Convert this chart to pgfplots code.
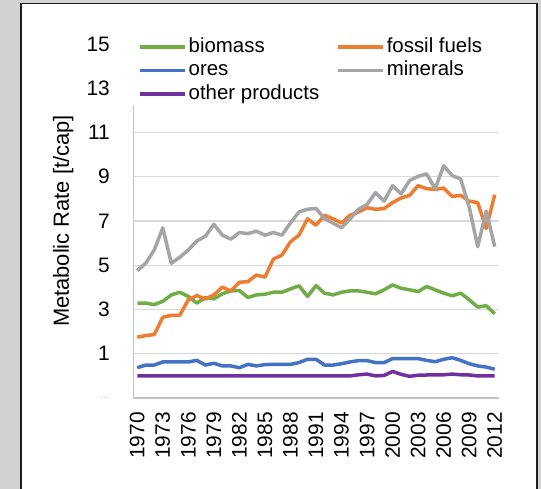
\documentclass[border=0pt]{standalone}
\usepackage{pgfplots}
\pgfplotsset{compat=1.18}
\usepackage{pgfplotstable}
\usepackage{fontspec}
\setmainfont{Liberation Sans}
\definecolor{cBio}{HTML}{70AD47}
\definecolor{cFos}{HTML}{ED7D31}
\definecolor{cOre}{HTML}{4472C4}
\definecolor{cMin}{HTML}{A5A5A5}
\definecolor{cOth}{HTML}{7030A0}
\definecolor{bggray}{HTML}{D2D2D2}
\definecolor{gridgray}{HTML}{D9D9D9}
\definecolor{framedark}{HTML}{1E1E1E}

\pgfplotstableread{
year bio fos ore min oth
1970 3.29 1.75 0.37 4.76 0
1971 3.29 1.82 0.49 5.09 0
1972 3.22 1.87 0.49 5.69 0
1973 3.37 2.65 0.63 6.69 0
1974 3.66 2.74 0.63 5.09 0
1975 3.78 2.74 0.63 5.36 0
1976 3.59 3.44 0.63 5.69 0
1977 3.29 3.63 0.70 6.10 0
1978 3.54 3.47 0.49 6.31 0
1979 3.48 3.66 0.57 6.85 0
1980 3.71 4.01 0.45 6.36 0
1981 3.84 3.84 0.45 6.18 0
1982 3.86 4.23 0.37 6.48 0
1983 3.54 4.26 0.52 6.43 0
1984 3.66 4.56 0.45 6.54 0
1985 3.69 4.46 0.51 6.36 0
1986 3.78 5.28 0.52 6.48 0
1987 3.78 5.46 0.52 6.36 0
1988 3.93 6.06 0.52 6.91 0
1989 4.07 6.36 0.60 7.41 0
1990 3.59 7.10 0.75 7.53 0
1991 4.08 6.81 0.75 7.57 0
1992 3.74 7.26 0.49 7.10 0
1993 3.66 7.10 0.49 6.91 0
1994 3.78 6.91 0.55 6.69 0
1995 3.84 7.26 0.63 7.10 0
1996 3.84 7.41 0.69 7.53 0.05
1997 3.78 7.60 0.69 7.75 0.08
1998 3.71 7.53 0.60 8.28 0.00
1999 3.89 7.56 0.60 7.90 0.02
2000 4.11 7.83 0.78 8.60 0.20
2001 3.96 8.04 0.78 8.23 0.07
2002 3.89 8.16 0.78 8.83 -0.02
2003 3.81 8.60 0.78 9.02 0.03
2004 4.04 8.46 0.70 9.13 0.04
2005 3.89 8.43 0.64 8.46 0.04
2006 3.74 8.49 0.75 9.50 0.05
2007 3.62 8.11 0.82 9.05 0.08
2008 3.74 8.16 0.70 8.90 0.05
2009 3.44 7.90 0.55 7.63 0.04
2010 3.11 7.83 0.45 5.84 0.00
2011 3.17 6.66 0.40 7.45 0.00
2012 2.81 8.19 0.30 5.84 0.00
}\datatable

\begin{document}
\begin{tikzpicture}
\fill[bggray] (0bp,0bp) rectangle (541bp,-489bp);
\useasboundingbox (0bp,0bp) rectangle (541bp,-489bp);
\filldraw[fill=white, draw=framedark, line width=1.6bp] (21bp,-3.5bp) rectangle (537bp,-520bp);
\begin{axis}[
  at={(133bp,-398bp)}, anchor=south west,
  scale only axis, width=366bp, height=354bp,
  xmin=1969.5, xmax=2012.5, ymin=-1, ymax=15,
  axis line style={draw=none},
  major tick length=0pt,
  xtick={1970,1973,...,2012},
  ytick={1,3,...,11},
  extra y ticks={-1,13,15},
  extra y tick labels={{\textcolor{black!35}{\fontsize{7}{7}\selectfont -\,-\,-}},13,15},
  extra y tick style={grid=none},
  ymajorgrids,
  grid style={gridgray, line width=1.3bp},
  /pgf/number format/1000 sep={},
  /pgf/number format/assume math mode=true,
  tick label style={font=\fontsize{21}{24}\selectfont, inner sep=0pt},
  xticklabel style={rotate=90, anchor=east},
  xticklabel shift=14bp,
  yticklabel shift=23bp,
  ylabel={Metabolic Rate [t/cap]},
  ylabel style={at={(axis description cs:-0.191,0.5)}, anchor=center, font=\fontsize{22}{24}\selectfont, inner sep=0pt},
  legend columns=2,
  legend cell align=left,
  legend image code/.code={\draw[#1] (0bp,0bp) -- (45bp,0bp);},
  legend style={at={(axis description cs:0.0137,1.019)}, anchor=north west,
    draw=none, fill=none, inner sep=0pt, row sep=4.5bp,
    font=\fontsize{20.5}{24}\selectfont,
    nodes={inner xsep=2bp, inner ysep=0pt, text height=15bp, text depth=4bp},
    /tikz/every even column/.append style={column sep=15bp}},
  every axis plot/.append style={line width=3.5bp, line join=round},
]
\addplot[cBio] table[x=year,y=bio] {\datatable};
\addlegendentry{biomass}
\addplot[cFos] table[x=year,y=fos] {\datatable};
\addlegendentry{fossil fuels}
\addplot[cOre] table[x=year,y=ore] {\datatable};
\addlegendentry{ores}
\addplot[cMin] table[x=year,y=min] {\datatable};
\addlegendentry{minerals}
\addplot[cOth] table[x=year,y=oth] {\datatable};
\addlegendentry{other products}
\draw[gridgray!90!black, line width=1.4bp] (axis cs:1969.5,12.25) -- (axis cs:1969.5,-1) -- (axis cs:2012.5,-1);
\end{axis}
\end{tikzpicture}
\end{document}
